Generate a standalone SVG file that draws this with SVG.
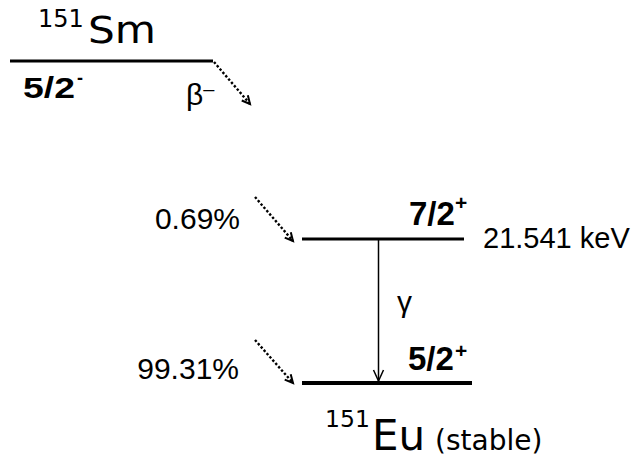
<svg xmlns="http://www.w3.org/2000/svg" width="643" height="463" viewBox="0 0 643 463">
<style>
.lvl{stroke:#000;fill:none}
.dot{stroke:#000;stroke-width:2.4;stroke-dasharray:2.4 2;fill:none;marker-end:url(#vhead)}
.gam{stroke:#000;stroke-width:1.5;fill:none}
.reg{font-family:"Liberation Sans",Arial,sans-serif;fill:#000}
.big{font-family:"DejaVu Sans","Liberation Sans",sans-serif;fill:#000}
.bold{font-family:"Liberation Sans",Arial,sans-serif;font-weight:bold;fill:#000}
</style>
<defs>
<marker id="vhead" markerUnits="userSpaceOnUse" markerWidth="12" markerHeight="12" refX="9" refY="5" orient="auto">
<path d="M1,1 L9,5 L1,9" fill="none" stroke="#000" stroke-width="2"/>
</marker>
</defs>
<rect width="643" height="463" fill="#fff"/>
<g id="sm151">
<line class="lvl" x1="10" y1="61" x2="213" y2="61" stroke-width="3"/>
<text class="big" x="38" y="27" font-size="24">151</text>
<text class="big" x="88" y="43" font-size="38" textLength="68" lengthAdjust="spacingAndGlyphs">Sm</text>
<text class="bold" x="23" y="98" font-size="30" textLength="52" lengthAdjust="spacingAndGlyphs">5/2</text>
<text class="bold" x="77" y="84" font-size="18">-</text>
</g>
<g id="eu151-excited">
<line class="lvl" x1="302" y1="239" x2="464" y2="239" stroke-width="3"/>
<text class="bold" x="409" y="225" font-size="33">7/2</text>
<text class="bold" x="455" y="210" font-size="21">+</text>
<text class="reg" x="483" y="248" font-size="29">21.541 keV</text>
</g>
<g id="eu151-ground">
<line class="lvl" x1="302" y1="383" x2="472" y2="383" stroke-width="4"/>
<text class="bold" x="408" y="370" font-size="33">5/2</text>
<text class="bold" x="455" y="358" font-size="21">+</text>
<text class="big" x="325" y="427" font-size="23.5">151</text>
<text class="big" x="372" y="450" font-size="42">Eu</text>
<text class="big" x="435" y="450" font-size="28">(stable)</text>
</g>
<g id="connectors">
<line class="dot" x1="214" y1="62" x2="250" y2="104"/>
<text class="reg" x="186" y="105" font-size="30">β<tspan font-size="20" dy="-9">–</tspan></text>
<line class="dot" x1="255" y1="197" x2="293" y2="241"/>
<text class="reg" x="240" y="229" font-size="30" text-anchor="end">0.69%</text>
<line class="dot" x1="255" y1="340" x2="293" y2="383"/>
<text class="reg" x="239" y="379" font-size="30" text-anchor="end">99.31%</text>
<line class="gam" x1="378.5" y1="239" x2="378.5" y2="381"/>
<path class="gam" d="M373.5,370 L378.5,381 L383.5,370"/>
<text class="reg" x="397" y="312" font-size="30">γ</text>
</g>
</svg>
